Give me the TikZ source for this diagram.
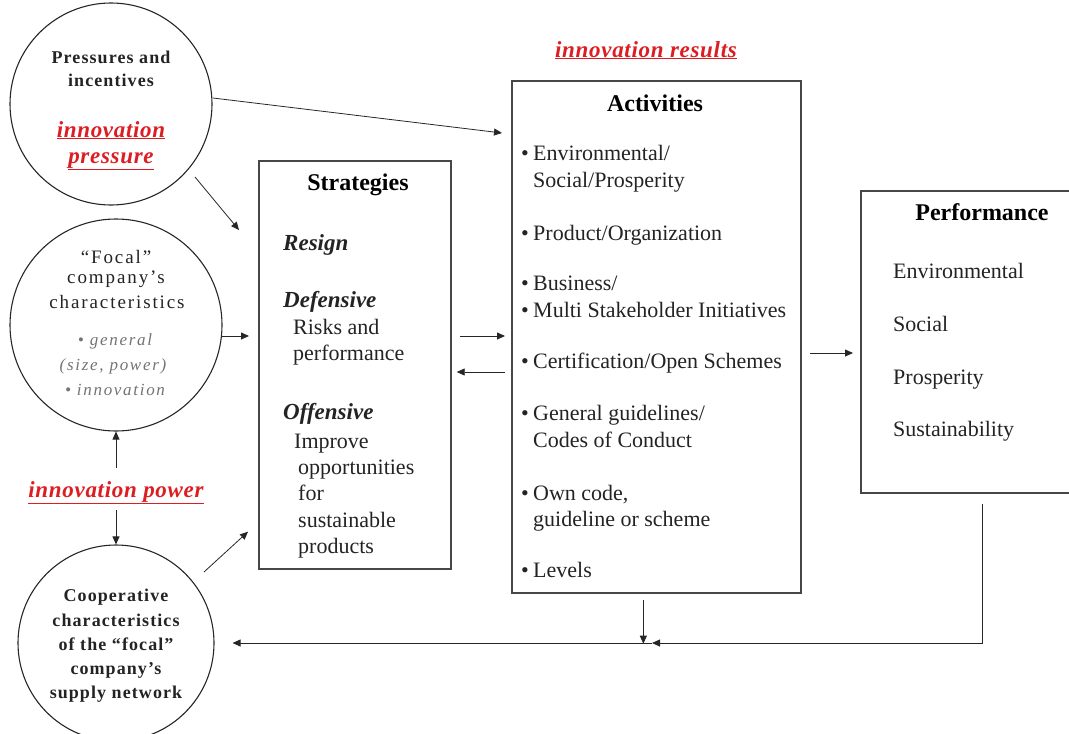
\documentclass[tikz,border=0pt]{standalone}
\usepackage{fontspec}
\setmainfont{Liberation Serif}
\newfontfamily\cbfont{Liberation Serif}[LetterSpace=6]
\newfontfamily\crfont{Liberation Serif}[LetterSpace=10]
\newfontfamily\rdfont{Liberation Serif}[LetterSpace=3]
\usetikzlibrary{arrows.meta,calc}
\definecolor{redtxt}{RGB}{220,30,35}
\definecolor{ink}{RGB}{35,35,35}
\begin{document}
\begin{tikzpicture}[x=1pt,y=-1pt,
  circ/.style={draw=black!85, line width=1.1pt, circle, inner sep=0pt},
  boxn/.style={draw=black!72, line width=1.7pt, rectangle, inner sep=0pt, anchor=north west},
  body/.style={inner sep=0pt, anchor=base west, text=ink, font=\fontsize{22}{26}\selectfont},
  ttl/.style={inner sep=0pt, anchor=base, text=black, font=\bfseries\fontsize{24}{28}\selectfont},
  semi/.style={inner sep=0pt, anchor=base west, text=ink, font=\bfseries\itshape\fontsize{23}{27}\selectfont},
  cb/.style={inner sep=0pt, anchor=base, text=ink, font=\cbfont\bfseries\fontsize{18}{22}\selectfont},
  cr/.style={inner sep=0pt, anchor=base, text=ink, font=\crfont\fontsize{19}{23}\selectfont},
  ci/.style={inner sep=0pt, anchor=base, text=black!55, font=\crfont\itshape\fontsize{17}{21}\selectfont},
  redlbl/.style={inner sep=0pt, anchor=base, text=redtxt, font=\rdfont\bfseries\itshape\fontsize{23}{27}\selectfont},
  arr/.style={draw=black!85, line width=0.8pt, -{Triangle[length=8pt,width=7pt]}},
]
\useasboundingbox (0,0) rectangle (1069,734);

% boxes
\node[boxn, minimum width=192pt, minimum height=408pt] (strat) at (258,160) {};
\node[boxn, minimum width=289pt, minimum height=512pt] (act) at (511,80) {};
\node[boxn, minimum width=244pt, minimum height=302pt] (perf) at (860,190) {};

% circles
\node[circ, minimum size=202pt] (c1) at (111,104) {};
\node[circ, minimum size=212pt] (c2) at (116,325) {};
\node[circ, minimum size=196pt] (c3) at (116,643) {};

% circle 1 text
\node[cb] (c1a) at (111,63) {Pressures and};
\node[cb] (c1b) at (111,86) {incentives};
\node[redlbl] (c1c) at (111,137) {\underline{innovation}};
\node[redlbl] (c1d) at (111,163) {\underline{pressure}};

% circle 2 text
\node[cr] (c2a) at (116,263) {“Focal”};
\node[cr] (c2b) at (116,283) {company’s};
\node[cr] (c2c) at (117,308) {characteristics};
\node[ci] (c2d) at (115,345) {• general};
\node[ci] (c2e) at (113,370) {(size, power)};
\node[ci] (c2f) at (115,395) {• innovation};

% innovation power
\node[redlbl] (pw) at (116,497) {\underline{innovation power}};

% circle 3 text
\node[cb] (c3a) at (116,601) {Cooperative};
\node[cb] (c3b) at (116,626) {characteristics};
\node[cb] (c3c) at (116,650) {of the “focal”};
\node[cb] (c3d) at (116,674) {company’s};
\node[cb] (c3e) at (116,698) {supply network};

% innovation results
\node[redlbl] (res) at (646,57) {\underline{innovation results}};

% strategies
\node[ttl] (st0) at (358,190) {Strategies};
\node[semi] (st1) at (283,250) {Resign};
\node[semi] (st2) at (283,307) {Defensive};
\node[body] (st3) at (293,334) {Risks and};
\node[body] (st4) at (293,360) {performance};
\node[semi] (st5) at (283,419) {Offensive};
\node[body] (st6) at (294,448) {Improve};
\node[body] (st7) at (298,474) {opportunities};
\node[body] (st8) at (298,500) {for};
\node[body] (st9) at (298,527) {sustainable};
\node[body] (st10) at (298,553) {products};

% activities
\node[ttl] (ac0) at (655,111) {Activities};
\node[body] (ac1) at (521,160) {\makebox[12pt][l]{•}Environmental/};
\node[body] (ac2) at (533,187) {Social/Prosperity};
\node[body] (ac3) at (521,240) {\makebox[12pt][l]{•}Product/Organization};
\node[body] (ac4) at (521,290) {\makebox[12pt][l]{•}Business/};
\node[body] (ac5) at (521,317) {\makebox[12pt][l]{•}Multi Stakeholder Initiatives};
\node[body] (ac6) at (521,368) {\makebox[12pt][l]{•}Certification/Open Schemes};
\node[body] (ac7) at (521,420) {\makebox[12pt][l]{•}General guidelines/};
\node[body] (ac8) at (533,447) {Codes of Conduct};
\node[body] (ac9) at (521,500) {\makebox[12pt][l]{•}Own code,};
\node[body] (ac10) at (533,526) {guideline or scheme};
\node[body] (ac11) at (521,577) {\makebox[12pt][l]{•}Levels};

% performance
\node[ttl] (pf0) at (982,220) {Performance};
\node[body] (pf1) at (893,278) {Environmental};
\node[body] (pf2) at (893,331) {Social};
\node[body] (pf3) at (893,384) {Prosperity};
\node[body] (pf4) at (893,436) {Sustainability};

% connectors
\draw[arr] ($(c1)+(102,-6)$) -- ($(act.north west)+(-9,53)$);
\draw[arr] ($(c1)+(84,73)$) -- ($(strat.north west)+(-19,70)$);
\draw[arr] ($(c2)+(106,11)$) -- ($(strat.north west)+(-9,176)$);
\draw[arr] ([yshift=13pt]pw.north) -- (c2.south);
\draw[arr] ([yshift=-6pt]pw.south) -- (c3.north);
\draw[arr] ($(c3)+(88,-71)$) -- ($(strat.south west)+(-10,-38)$);
\draw[arr] ($(strat.north east)+(8,176)$) -- ($(act.north west)+(-6,256)$);
\draw[arr] ($(act.north west)+(-6,292)$) -- ($(strat.north east)+(5,212)$);
\draw[arr] ($(act.north east)+(8,273)$) -- ($(perf.north west)+(-7,163)$);
\coordinate (fb) at (652,643);
\draw[arr] ($(act.south)+(-13,6)$) -- ($(act.south)+(-13,50)$);
\draw[arr] ($(perf.south)+(0,10)$) |- (fb);
\draw[arr] (fb) -- ($(c3.east)+(18,0)$);
\end{tikzpicture}
\end{document}
